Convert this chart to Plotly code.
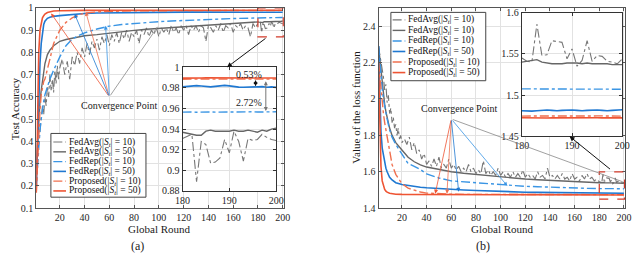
import plotly.graph_objects as go

FONT = "Liberation Serif, Times New Roman, serif"
W, H = 640, 265

# ---------------- data ----------------
rounds_smooth = list(range(1, 9)) + [10, 12, 15, 20, 25, 30, 35, 40] + list(range(50, 171, 10)) + list(range(180, 201))
rounds_noisy = list(range(1, 21)) + list(range(22, 179, 2)) + list(range(180, 201))

series_names_acc = [
    "FedAvg(|<i>S<sub>t</sub></i>| = 10)", "FedAvg(|<i>S<sub>t</sub></i>| = 50)",
    "FedRep(|<i>S<sub>t</sub></i>| = 10)", "FedRep(|<i>S<sub>t</sub></i>| = 50)",
    "Proposed(|<i>S<sub>t</sub></i>| = 10)", "Proposed(|<i>S<sub>t</sub></i>| = 50)",
]
series_names_loss = [
    "FedAvg(|<i>S<sub>t</sub></i>| = 10)", "FedAvg(|<i>S<sub>t</sub></i>| = 10)",
    "FedRep(|<i>S<sub>t</sub></i>| = 10)", "FedRep(|<i>S<sub>t</sub></i>| = 50)",
    "Proposed(|<i>S<sub>t</sub></i>| = 10)", "Proposed(|<i>S<sub>t</sub></i>| = 50)",
]

acc_avg10 = [0.28, 0.33, 0.40, 0.46, 0.50, 0.56, 0.52, 0.60, 0.56, 0.65, 0.60, 0.70, 0.63, 0.68, 0.62, 0.72, 0.66, 0.74, 0.68, 0.73,
             0.77, 0.70, 0.76, 0.68, 0.78, 0.74, 0.80, 0.75, 0.82, 0.78,
             0.84, 0.79, 0.85, 0.82, 0.86, 0.81, 0.87, 0.84, 0.88, 0.83,
             0.88, 0.85, 0.89, 0.84, 0.89, 0.86, 0.90, 0.85, 0.89, 0.87,
             0.90, 0.84, 0.90, 0.88, 0.91, 0.87, 0.90, 0.88, 0.91, 0.87,
             0.91, 0.89, 0.91, 0.88, 0.92, 0.89, 0.91, 0.88, 0.92, 0.90,
             0.92, 0.88, 0.92, 0.90, 0.92, 0.89, 0.92, 0.91, 0.85, 0.92,
             0.91, 0.89, 0.92, 0.90, 0.93, 0.89, 0.92, 0.91, 0.93, 0.89,
             0.92, 0.91, 0.93, 0.90, 0.92, 0.91, 0.87, 0.93, 0.91,
             0.931, 0.933, 0.935, 0.889, 0.928, 0.925, 0.907, 0.908, 0.912, 0.930, 0.917,
             0.938, 0.928, 0.909, 0.931, 0.929, 0.930, 0.935, 0.932, 0.930, 0.929]
acc_avg50 = [0.28, 0.40, 0.50, 0.58, 0.63, 0.68, 0.72, 0.75,
             0.79, 0.81, 0.83, 0.85, 0.858, 0.864, 0.87, 0.875,
             0.88, 0.887, 0.894, 0.899, 0.904, 0.908, 0.912, 0.915, 0.918, 0.921, 0.925, 0.929, 0.933,
             0.937, 0.936, 0.935, 0.934, 0.934, 0.938, 0.939, 0.938, 0.938, 0.938, 0.938,
             0.939, 0.938, 0.938, 0.939, 0.938, 0.937, 0.939, 0.938, 0.940, 0.941]
acc_rep10 = [0.20, 0.30, 0.38, 0.45, 0.50, 0.55, 0.58, 0.61,
             0.65, 0.68, 0.72, 0.78, 0.83, 0.86, 0.875, 0.888,
             0.905, 0.918, 0.925, 0.93, 0.935, 0.938, 0.941, 0.944, 0.946, 0.948, 0.950, 0.952, 0.954,
             0.9565, 0.9568, 0.9566, 0.9564, 0.9567, 0.9569, 0.9567, 0.9565, 0.9566, 0.9568, 0.9570,
             0.9568, 0.9566, 0.9567, 0.9569, 0.9568, 0.9566, 0.9567, 0.9569, 0.9570, 0.9568]
acc_rep50 = [0.20, 0.40, 0.60, 0.75, 0.84, 0.895, 0.925, 0.94,
             0.953, 0.958, 0.962, 0.965, 0.968, 0.971, 0.973, 0.975,
             0.977, 0.978, 0.979, 0.980, 0.980, 0.981, 0.981, 0.981, 0.981, 0.981, 0.981, 0.981, 0.981,
             0.9810, 0.9815, 0.9820, 0.9822, 0.9818, 0.9812, 0.9810, 0.9815, 0.9822, 0.9825, 0.9820,
             0.9812, 0.9808, 0.9806, 0.9808, 0.9812, 0.9815, 0.9812, 0.9807, 0.9810, 0.9805]
acc_prop10 = [0.17, 0.30, 0.44, 0.54, 0.61, 0.65, 0.67, 0.68,
              0.72, 0.77, 0.84, 0.90, 0.935, 0.955, 0.968, 0.976,
              0.982, 0.985, 0.986, 0.987, 0.987, 0.988, 0.988, 0.988, 0.988, 0.988, 0.988, 0.988, 0.988,
              0.9884, 0.9886, 0.9885, 0.9884, 0.9886, 0.9885, 0.9884, 0.9885, 0.9886, 0.9885, 0.9884,
              0.9885, 0.9886, 0.9885, 0.9884, 0.9885, 0.9886, 0.9885, 0.9884, 0.9885, 0.9886]
acc_prop50 = [0.17, 0.55, 0.80, 0.90, 0.935, 0.955, 0.965, 0.972,
              0.979, 0.983, 0.986, 0.987, 0.988, 0.988, 0.989, 0.989,
              0.989, 0.989, 0.989, 0.990, 0.989, 0.990, 0.989, 0.990, 0.990, 0.989, 0.990, 0.990, 0.990,
              0.9895, 0.9897, 0.9896, 0.9895, 0.9896, 0.9897, 0.9897, 0.9896, 0.9895, 0.9896, 0.9897,
              0.9897, 0.9896, 0.9895, 0.9896, 0.9897, 0.9896, 0.9895, 0.9896, 0.9897, 0.9896]

loss_avg10 = [2.29, 2.25, 2.20, 2.16, 2.12, 2.05, 2.08, 1.98, 2.02, 1.92, 1.95, 1.87, 1.90, 1.84, 1.86, 1.80, 1.84, 1.78, 1.80, 1.76,
              1.78, 1.75, 1.79, 1.72, 1.76, 1.70, 1.72, 1.67, 1.70, 1.64,
              1.66, 1.63, 1.67, 1.63, 1.68, 1.62, 1.64, 1.62, 1.67, 1.62,
              1.64, 1.61, 1.63, 1.60, 1.62, 1.60, 1.64, 1.60, 1.62, 1.59,
              1.61, 1.59, 1.66, 1.59, 1.61, 1.58, 1.60, 1.58, 1.62, 1.58,
              1.60, 1.57, 1.59, 1.57, 1.60, 1.57, 1.59, 1.57, 1.61, 1.57,
              1.59, 1.57, 1.58, 1.56, 1.60, 1.57, 1.58, 1.56, 1.62, 1.57,
              1.58, 1.56, 1.58, 1.56, 1.59, 1.56, 1.57, 1.55, 1.59, 1.56,
              1.57, 1.55, 1.58, 1.56, 1.59, 1.56, 1.57, 1.55, 1.56,
              1.545, 1.541, 1.540, 1.586, 1.548, 1.549, 1.566, 1.565, 1.564, 1.544, 1.556,
              1.535, 1.542, 1.566, 1.541, 1.548, 1.547, 1.541, 1.540, 1.538, 1.544]
loss_avg50 = [2.29, 2.22, 2.15, 2.08, 2.02, 1.97, 1.93, 1.90,
              1.84, 1.80, 1.76, 1.72, 1.68, 1.655, 1.638, 1.626,
              1.612, 1.600, 1.592, 1.585, 1.578, 1.570, 1.565, 1.560, 1.556, 1.552, 1.549, 1.546, 1.543,
              1.540, 1.541, 1.542, 1.543, 1.540, 1.539, 1.538, 1.538, 1.538, 1.539, 1.539,
              1.539, 1.538, 1.539, 1.538, 1.538, 1.538, 1.538, 1.537, 1.537, 1.537]
loss_rep10 = [2.29, 2.20, 2.12, 2.06, 2.00, 1.96, 1.92, 1.89,
              1.83, 1.79, 1.75, 1.70, 1.645, 1.63, 1.612, 1.588,
              1.566, 1.550, 1.545, 1.540, 1.535, 1.528, 1.524, 1.520, 1.518, 1.515, 1.513, 1.511, 1.509,
              1.5075, 1.5078, 1.5077, 1.5075, 1.5074, 1.5076, 1.5078, 1.5076, 1.5074, 1.5073, 1.5075,
              1.5076, 1.5074, 1.5072, 1.5073, 1.5074, 1.5072, 1.5071, 1.5072, 1.5073, 1.5071]
loss_rep50 = [2.29, 2.05, 1.82, 1.73, 1.69, 1.656, 1.62, 1.60,
              1.57, 1.555, 1.54, 1.53, 1.524, 1.519, 1.515, 1.512,
              1.507, 1.503, 1.500, 1.497, 1.494, 1.492, 1.490, 1.488, 1.487, 1.486, 1.485, 1.484, 1.483,
              1.4810, 1.4805, 1.4805, 1.4810, 1.4815, 1.4820, 1.4815, 1.4810, 1.4815, 1.4820, 1.4820,
              1.4815, 1.4810, 1.4815, 1.4820, 1.4820, 1.4815, 1.4810, 1.4815, 1.4820, 1.4822]
loss_prop10 = [2.20, 2.12, 2.05, 1.98, 1.92, 1.87, 1.83, 1.78,
               1.70, 1.64, 1.586, 1.535, 1.51, 1.498, 1.489, 1.483,
               1.479, 1.477, 1.476, 1.476, 1.475, 1.475, 1.475, 1.475, 1.475, 1.474, 1.474, 1.474, 1.474,
               1.4745, 1.4747, 1.4746, 1.4744, 1.4746, 1.4748, 1.4746, 1.4745, 1.4747, 1.4746, 1.4744,
               1.4746, 1.4747, 1.4745, 1.4746, 1.4748, 1.4746, 1.4745, 1.4746, 1.4747, 1.4745]
loss_prop50 = [2.20, 1.85, 1.63, 1.55, 1.52, 1.503, 1.494, 1.488,
               1.482, 1.479, 1.477, 1.476, 1.476, 1.475, 1.475, 1.475,
               1.475, 1.474, 1.474, 1.474, 1.474, 1.474, 1.473, 1.473, 1.473, 1.473, 1.473, 1.473, 1.473,
               1.4725, 1.4723, 1.4724, 1.4726, 1.4725, 1.4723, 1.4724, 1.4725, 1.4726, 1.4724, 1.4723,
               1.4725, 1.4726, 1.4724, 1.4723, 1.4725, 1.4724, 1.4723, 1.4725, 1.4726, 1.4724]

x_ticks = [20, 40, 60, 80, 100, 120, 140, 160, 180, 200]
acc_ticks = [0.1, 0.2, 0.3, 0.4, 0.5, 0.6, 0.7, 0.8, 0.9, 1.0]
acc_tick_labels = ["0.1", "0.2", "0.3", "0.4", "0.5", "0.6", "0.7", "0.8", "0.9", "1"]
loss_ticks = [1.4, 1.6, 1.8, 2.0, 2.2, 2.4]
loss_tick_labels = ["1.4", "1.6", "1.8", "2", "2.2", "2.4"]
inset_x_ticks = [180, 190, 200]
acc_inset_ticks = [0.88, 0.90, 0.92, 0.94, 0.96, 0.98, 1.0]
acc_inset_labels = ["0.88", "0.9", "0.92", "0.94", "0.96", "0.98", "1"]
loss_inset_ticks = [1.45, 1.5, 1.55, 1.6]
loss_inset_labels = ["1.45", "1.5", "1.55", "1.6"]

# ---------------- styles ----------------
RED, RED_L = "#EE5433", "#F0704F"
BLUE, BLUE_L = "#1F78D1", "#3A95E4"
GRAY, GRAY_L = "#666666", "#777777"
styles = [
    dict(color=GRAY_L, dash="dashdot", width=1.1),
    dict(color=GRAY, dash="solid", width=1.4),
    dict(color=BLUE_L, dash="dashdot", width=1.4),
    dict(color=BLUE, dash="solid", width=1.6),
    dict(color=RED_L, dash="dashdot", width=1.4),
    dict(color=RED, dash="solid", width=1.6),
]

acc_series = [(rounds_noisy, acc_avg10), (rounds_smooth, acc_avg50), (rounds_smooth, acc_rep10),
              (rounds_smooth, acc_rep50), (rounds_smooth, acc_prop10), (rounds_smooth, acc_prop50)]
loss_series = [(rounds_noisy, loss_avg10), (rounds_smooth, loss_avg50), (rounds_smooth, loss_rep10),
               (rounds_smooth, loss_rep50), (rounds_smooth, loss_prop10), (rounds_smooth, loss_prop50)]

fig = go.Figure()


def add_series(series, xa, ya, xi, yi):
    for (xs, ys), st in zip(series, styles):
        fig.add_trace(go.Scatter(x=xs, y=ys, mode="lines", line=st, xaxis=xa, yaxis=ya,
                                 showlegend=False, hoverinfo="skip"))
        xin = [x for x in xs if x >= 180]
        yin = [y for x, y in zip(xs, ys) if x >= 180]
        fig.add_trace(go.Scatter(x=xin, y=yin, mode="lines", line=st, xaxis=xi, yaxis=yi,
                                 showlegend=False, hoverinfo="skip"))


add_series(acc_series, "x", "y", "x3", "y3")
add_series(loss_series, "x2", "y2", "x4", "y4")


def px_x(p):
    return p / W


def px_y(p):
    return 1 - p / H


tickfont = dict(family=FONT, size=10, color="#262626")
common = dict(showline=True, linecolor="#555555", linewidth=1, mirror="ticks", ticks="inside",
              ticklen=3, tickcolor="#555555", showgrid=True, gridcolor="#e2e2e2", gridwidth=1,
              zeroline=False, tickfont=tickfont, fixedrange=True)
inset = dict(common, linecolor="#333333", linewidth=1.3, tickcolor="#333333")

fig.update_layout(
    width=W, height=H, margin=dict(l=0, r=0, t=0, b=0),
    paper_bgcolor="white", plot_bgcolor="white", showlegend=False,
    font=dict(family=FONT),
    xaxis=dict(common, domain=[px_x(29), px_x(283)], range=[1, 201], tickvals=x_ticks, anchor="y"),
    yaxis=dict(common, domain=[px_y(212), px_y(3)], range=[0.1, 1.0], tickvals=acc_ticks,
               ticktext=acc_tick_labels, anchor="x"),
    xaxis2=dict(common, domain=[px_x(380), px_x(633)], range=[1, 201], tickvals=x_ticks, anchor="y2"),
    yaxis2=dict(common, domain=[px_y(212), px_y(3)], range=[1.4, 2.5], tickvals=loss_ticks,
                ticktext=loss_tick_labels, anchor="x2"),
    xaxis3=dict(inset, domain=[px_x(179), px_x(275)], range=[180, 200], tickvals=inset_x_ticks, anchor="y3"),
    yaxis3=dict(inset, domain=[px_y(194), px_y(65)], range=[0.88, 1.0], tickvals=acc_inset_ticks,
                ticktext=acc_inset_labels, anchor="x3"),
    xaxis4=dict(inset, domain=[px_x(527), px_x(630)], range=[180, 200], tickvals=inset_x_ticks, anchor="y4"),
    yaxis4=dict(inset, domain=[px_y(137), px_y(8)], range=[1.45, 1.6], tickvals=loss_inset_ticks,
                ticktext=loss_inset_labels, anchor="x4"),
)

shapes = []
annotations = []

# dashed zoom boxes
shapes.append(dict(type="rect", xref="x", yref="y", x0=180, x1=200.5, y0=0.87, y1=1.0,
                   line=dict(color="#D23A2A", width=1.2, dash="dash"), layer="above"))
shapes.append(dict(type="rect", xref="x2", yref="y2", x0=180, x1=200.5, y0=1.45, y1=1.6,
                   line=dict(color="#D23A2A", width=1.2, dash="dash"), layer="above"))


def arrow(xr, yr, x, y, ax, ay, color, width=0.8, head=2, size=1.0, side="end", pixel=False):
    d = dict(xref=xr, yref=yr, x=x, y=y, ax=ax, ay=ay, text="", showarrow=True,
             arrowcolor=color, arrowwidth=width, arrowhead=head, arrowsize=size, arrowside=side,
             startarrowhead=head, startarrowsize=size, standoff=0, startstandoff=0)
    if not pixel:
        d["axref"] = xr
        d["ayref"] = yr
    annotations.append(d)


# convergence point arrows (a)
apex_a = (60, 0.6)
for (tx, ty), col, hd in [((13, 0.975), RED, 2), ((41, 0.982), RED_L, 2), ((32, 0.972), BLUE, 2),
                          ((57, 0.92), BLUE_L, 2), ((99, 0.915), "#888888", 0)]:
    arrow("x", "y", tx, ty, apex_a[0], apex_a[1], col, head=hd)
# convergence point arrows (b)
apex_b = (60, 1.89)
for (tx, ty), col, hd in [((47, 1.48), RED, 2), ((56.5, 1.48), RED_L, 2), ((66, 1.49), BLUE, 2),
                          ((105.5, 1.522), BLUE_L, 2), ((199, 1.545), "#888888", 0)]:
    arrow("x2", "y2", tx, ty, apex_b[0], apex_b[1], col, head=hd)

# zoom arrows (black)
arrow("x3", "y3", 189.5, 1.0, 40, -30, "#111111", width=1, head=2, pixel=True)
arrow("x4", "y4", 189.5, 1.45, 42, 34, "#111111", width=1, head=2, pixel=True)

# percentage arrows in inset (a)
arrow("x3", "y3", 195.6, 0.9816, 195.6, 0.9892, "#111111", width=1, head=2, size=0.8, side="end+start")
arrow("x3", "y3", 197.8, 0.9575, 197.8, 0.9878, "#777777", width=1, head=2, size=0.8, side="end+start")


def text(xr, yr, x, y, s, size=10, angle=0, xanchor="center", yanchor="middle", color="#1a1a1a"):
    annotations.append(dict(xref=xr, yref=yr, x=x, y=y, text=s, showarrow=False, textangle=angle,
                            xanchor=xanchor, yanchor=yanchor,
                            font=dict(family=FONT, size=size, color=color)))


text("x3", "y3", 194.1, 0.9935, "0.53%", size=10)
text("x3", "y3", 194.3, 0.966, "2.72%", size=10)
text("x", "y", 68, 0.56, "Convergence Point", size=10)
text("x2", "y2", 66, 1.95, "Convergence Point", size=10)

# axis titles & captions
text("paper", "paper", px_x(7), px_y(108), "Test Accuracy", size=11, angle=-90)
text("paper", "paper", px_x(356), px_y(107), "Value of the loss function", size=11, angle=-90)
text("paper", "paper", px_x(155), px_y(234), "Global Round", size=11)
text("paper", "paper", px_x(507), px_y(234), "Global Round", size=11)
text("paper", "paper", px_x(133), px_y(251), "(a)", size=12)
text("paper", "paper", px_x(487), px_y(251), "(b)", size=12)


# manual legends
def legend(names, box, rows, sx0, sx1, tx):
    x0, y0, x1, y1 = box
    shapes.append(dict(type="rect", xref="paper", yref="paper", x0=px_x(x0), x1=px_x(x1),
                       y0=px_y(y1), y1=px_y(y0), fillcolor="white",
                       line=dict(color="#444444", width=1), layer="above"))
    for name, st, ry in zip(names, styles, rows):
        shapes.append(dict(type="line", xref="paper", yref="paper", x0=px_x(sx0), x1=px_x(sx1),
                           y0=px_y(ry), y1=px_y(ry), line=st, layer="above"))
        text("paper", "paper", px_x(tx), px_y(ry), name, size=9.5,
             xanchor="left", color="#111111")


legend(series_names_acc, (44, 134, 141.5, 200.5), [143, 153.2, 163.4, 173.6, 183.8, 194], 46.5, 59.5, 60)
legend(series_names_loss, (392.7, 7.7, 490, 79), [15.5, 26.5, 37.5, 48.5, 59.5, 70.5], 394.5, 407.5, 408.5)

fig.update_layout(shapes=shapes, annotations=annotations)
fig.write_html("out.html", config={"displayModeBar": False},
               post_script="document.body.style.margin='0px';document.body.style.padding='0px';")
